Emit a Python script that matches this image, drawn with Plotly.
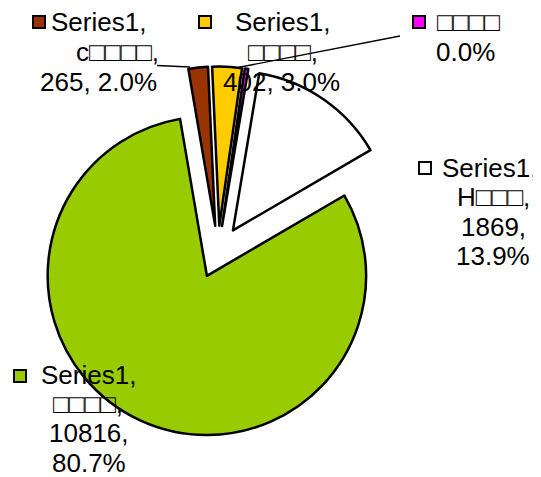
import plotly.graph_objects as go

# ---- data ----
categories = ["c□□□□", "□□□□", "□□□□ ", "H□□□", "□□□□  "]
values = [265, 402, 48, 1869, 10816]
colors = ["#993300", "#FFCC00", "#FF00FF", "#FFFFFF", "#99CC00"]
series_name = "Series1"
label_lines = [
    ["Series1,", "c□□□□,", "265, 2.0%"],
    ["Series1,", "□□□□,", "402, 3.0%"],
    ["□□□□", "0.0%"],
    ["Series1,", "H□□□,", "1869,", "13.9%"],
    ["Series1,", "□□□□,", "10816,", "80.7%"],
]

# ---- layout helpers (page pixel -> paper); page body has an 8px margin ----
OFF = 8
W, H = 541 - OFF, 477 - OFF
def px(x):
    return (x - OFF) / W
def py(y):
    return 1 - (y - OFF) / H

FONT = "Liberation Sans, Arial, sans-serif"
FS = 26

# label line positions: (center x, baseline y) in page pixels
label_pos = [
    [(98, 31.5), (117.5, 61), (98, 90.7)],
    [(282, 31.5), (282.5, 61), (281.5, 90.7)],
    [(468, 31.5), (465, 61)],
    [(489, 177), (493, 206.5), (493.5, 236), (492.5, 265.5)],
    [(88.5, 384), (87.5, 413.3), (89, 442.5), (88.5, 471.7)],
]
key_pos = [(32, 15), (198, 15), (412, 15), (418, 161), (13, 369)]

CX, CY, RT = 218, 252, 185.5
fig = go.Figure(go.Pie(
    labels=categories,
    values=values,
    sort=False,
    direction="clockwise",
    rotation=-9.7,
    pull=[0.165] * len(values),
    marker=dict(colors=colors, line=dict(color="black", width=2.5)),
    textinfo="none",
    hoverinfo="none",
    domain=dict(x=[px(CX - RT), px(CX + RT)], y=[py(CY + RT), py(CY - RT)]),
))

annotations = []
for lines, poss in zip(label_lines, label_pos):
    for t, (cx, base) in zip(lines, poss):
        annotations.append(dict(
            x=px(cx), y=py(base - 0.3465 * FS), xref="paper", yref="paper",
            text=t, showarrow=False, xanchor="center", yanchor="middle",
            borderpad=0,
            font=dict(family=FONT, size=FS, color="black"),
        ))

shapes = []
for (kx, ky), c in zip(key_pos, colors):
    shapes.append(dict(
        type="rect", xref="paper", yref="paper",
        x0=px(kx + 1), x1=px(kx + 13), y0=py(ky + 13), y1=py(ky + 1),
        fillcolor=c, line=dict(color="black", width=2),
    ))
# leader lines
shapes.append(dict(type="line", xref="paper", yref="paper",
                   x0=px(157), y0=py(65.5), x1=px(190), y1=py(67),
                   line=dict(color="black", width=1.3)))
shapes.append(dict(type="line", xref="paper", yref="paper",
                   x0=px(400), y0=py(36), x1=px(238), y1=py(67.5),
                   line=dict(color="black", width=1.3)))

fig.update_layout(
    width=W, height=H,
    margin=dict(l=0, r=0, t=0, b=0),
    paper_bgcolor="white", plot_bgcolor="white",
    showlegend=False,
    annotations=annotations,
    shapes=shapes,
)

fig.write_html("out.html")
